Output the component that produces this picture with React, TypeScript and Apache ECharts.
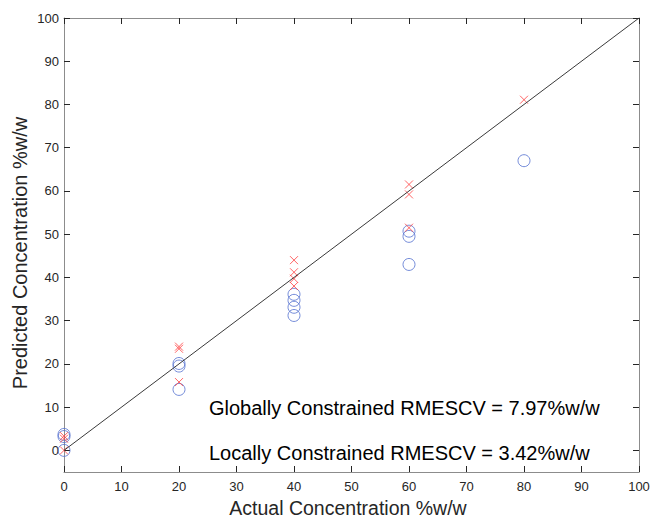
import React, { useEffect, useRef } from "react";
import * as echarts from "echarts";

const xTicks = [0, 10, 20, 30, 40, 50, 60, 70, 80, 90, 100];
const yTicks = [0, 10, 20, 30, 40, 50, 60, 70, 80, 90, 100];

// Globally constrained predictions (blue circles)
const globalActual = [0, 0, 0, 20, 20, 20, 40, 40, 40, 40, 60, 60, 60, 80];
const globalPred = [0, 3.2, 3.7, 20.1, 19.5, 14.1, 36.1, 34.7, 33.1, 31.2, 50.7, 49.5, 43.0, 67.0];

// Locally constrained predictions (red crosses)
const localActual = [0, 0, 0, 20, 20, 20, 40, 40, 40, 40, 60, 60, 60, 80];
const localPred = [0, 2.7, 3.3, 24.0, 23.5, 15.8, 44.0, 41.2, 39.7, 38.0, 61.5, 59.2, 51.5, 81.1];

const identityLine = [0, 100];

const xName = "Actual Concentration %w/w";
const yName = "Predicted Concentration %w/w";

const annotations = [
  "Globally Constrained RMESCV = 7.97%w/w",
  "Locally Constrained RMESCV = 3.42%w/w",
];

export default function App() {
  const ref = useRef<HTMLDivElement>(null);
  useEffect(() => {
    if (!ref.current) return;
    const chart = echarts.init(ref.current, undefined, { renderer: "svg" });
    const font = "Liberation Sans, Arial, Helvetica, sans-serif";
    const axisLine = { show: true, onZero: false, lineStyle: { color: "#8c8c8c", width: 1 } };
    const tick = (vals: number[]) => ({
      show: true,
      inside: true,
      length: 6,
      customValues: vals,
      lineStyle: { color: "#262626", width: 1 },
    });
    chart.setOption({
      animation: false,
      backgroundColor: "#ffffff",
      grid: {
        left: 64,
        top: 18,
        width: 575,
        height: 454,
        containLabel: false,
        outerBoundsMode: "none",
      },
      xAxis: [
        {
          type: "value",
          min: 0,
          max: 100,
          interval: 10,
          position: "bottom",
          axisLine,
          axisTick: tick(xTicks),
          splitLine: { show: false },
          axisLabel: {
            customValues: xTicks,
            color: "#262626",
            fontSize: 13,
            fontFamily: font,
            margin: 8,
          },
        },
        {
          type: "value",
          min: 0,
          max: 100,
          interval: 10,
          position: "top",
          axisLine,
          axisTick: tick(xTicks),
          splitLine: { show: false },
          axisLabel: { show: false },
        },
      ],
      yAxis: [
        {
          type: "value",
          min: -5,
          max: 100,
          position: "left",
          axisLine,
          axisTick: tick(yTicks),
          splitLine: { show: false },
          axisLabel: {
            customValues: yTicks,
            color: "#262626",
            fontSize: 13,
            fontFamily: font,
            margin: 5,
          },
        },
        {
          type: "value",
          min: -5,
          max: 100,
          position: "right",
          axisLine,
          axisTick: tick(yTicks),
          splitLine: { show: false },
          axisLabel: { show: false },
        },
      ],
      series: [
        {
          type: "scatter",
          data: globalActual.map((x, i) => [x, globalPred[i]]),
          symbol: "circle",
          symbolSize: 12,
          itemStyle: { color: "rgba(0,0,0,0)", borderColor: "#5470d0", borderWidth: 1 },
          z: 2,
        },
        {
          type: "scatter",
          data: localActual.map((x, i) => [x, localPred[i]]),
          symbol: "path://M0,0L10,10M10,0L0,10",
          symbolSize: 8,
          itemStyle: { color: "none", borderColor: "#ff4040", borderWidth: 1 },
          z: 3,
        },
        {
          type: "line",
          data: identityLine.map((v) => [v, v]),
          symbol: "none",
          lineStyle: { color: "#3a3a3a", width: 1 },
          z: 4,
        },
      ],
      graphic: [
        ...annotations.map((t, i) => ({
          type: "text",
          left: 209,
          top: 398 + i * 45,
          style: { text: t, fontSize: 20, fontFamily: font, fill: "#000" },
          z: 10,
        })),
        {
          type: "text",
          x: 348,
          y: 507.5,
          style: {
            text: xName,
            fontSize: 19.5,
            fontFamily: font,
            fill: "#262626",
            align: "center",
            verticalAlign: "middle",
          },
          z: 10,
        },
        {
          type: "text",
          x: 20,
          y: 253,
          rotation: Math.PI / 2,
          style: {
            text: yName,
            fontSize: 20,
            fontFamily: font,
            fill: "#262626",
            align: "center",
            verticalAlign: "middle",
          },
          z: 10,
        },
      ],
    });
    return () => chart.dispose();
  }, []);
  return (
    <div
      ref={ref}
      style={{ position: "absolute", left: 0, top: 0, width: 651, height: 517 }}
    />
  );
}
